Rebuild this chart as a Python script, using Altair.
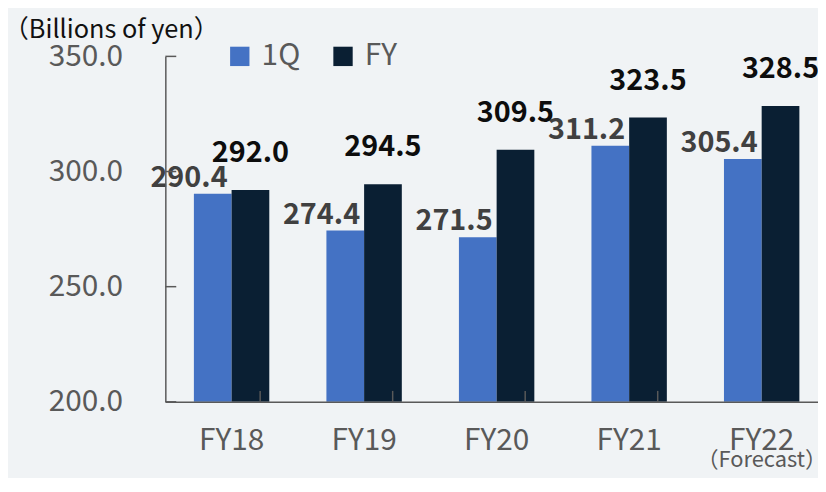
import altair as alt
import pandas as pd

# ---- data ----
categories = ["FY18", "FY19", "FY20", "FY21", "FY22"]
series = ["1Q", "FY"]
q1_values = [290.4, 274.4, 271.5, 311.2, 305.4]
fy_values = [292.0, 294.5, 309.5, 323.5, 328.5]
y_ticks = [200.0, 250.0, 300.0, 350.0]
note_cats = ["FY22"]
note_texts = ["（Forecast）"]
title_text = "（Billions of yen）"

# ---- style ----
FONT = "Noto Sans CJK JP"
colors = ["#4472C4", "#0A1F33"]
GRAY = "#595959"
BG = "#f0f3f5"
W = 651.5       # visible plot width
RANGE = 667.5   # full band range (last band runs past the page edge)
H = 348
Y_MIN, Y_MAX = 200, 350

rows = []
for c, q, f in zip(categories, q1_values, fy_values):
    rows.append({"cat": c, "series": series[0], "value": q})
    rows.append({"cat": c, "series": series[1], "value": f})
df = pd.DataFrame(rows)

x_enc = alt.X(
    "cat:N",
    sort=categories,
    scale=alt.Scale(domain=categories, range=[0, RANGE], paddingInner=0.431, paddingOuter=0.2155),
    axis=alt.Axis(
        title=None, labelAngle=0, labelFont=FONT, labelFontSize=30, labelColor=GRAY,
        ticks=False, labelPadding=24, domainColor=GRAY, domainWidth=1.5, zindex=1,
    ),
)
y_enc = alt.Y(
    "value:Q",
    scale=alt.Scale(domain=[Y_MIN, Y_MAX], zero=False, nice=False),
    axis=alt.Axis(
        title=None, values=y_ticks, format=".1f", labelFont=FONT, labelFontSize=30,
        labelColor=GRAY, ticks=False, labelPadding=43, domainColor=GRAY,
        domainWidth=1.5, grid=False, zindex=1,
    ),
)
xoff = alt.XOffset("series:N", sort=series, scale=alt.Scale(domain=series, paddingInner=0, paddingOuter=0))

base = alt.Chart(df)

bars = base.mark_bar().encode(
    x=x_enc,
    xOffset=xoff,
    y=y_enc,
    y2=alt.datum(Y_MIN),
    color=alt.Color(
        "series:N",
        sort=series,
        scale=alt.Scale(domain=series, range=colors),
        legend=alt.Legend(
            title=None, orient="none", direction="horizontal", legendX=60, legendY=-15,
            symbolType="square", symbolSize=380, symbolStrokeWidth=0, symbolOpacity=1,
            labelFont=FONT, labelFontSize=30, labelColor=GRAY, labelOffset=7,
            columnPadding=28, padding=0,
        ),
    ),
)

q1_labels = base.transform_filter(alt.datum.series == series[0]).mark_text(
    align="right", baseline="alphabetic", dx=15, dy=-7,
    font=FONT, fontSize=29, fontWeight="bold", color="#404040",
).encode(x=x_enc, xOffset=xoff, y=y_enc, text=alt.Text("value:Q", format=".1f"))

fy_labels = base.transform_filter(alt.datum.series == series[1]).mark_text(
    align="center", baseline="alphabetic", dy=-28,
    font=FONT, fontSize=29, fontWeight="bold", color="#0d0d0d",
).encode(x=x_enc, xOffset=xoff, y=y_enc, text=alt.Text("value:Q", format=".1f"))

# inward-pointing axis ticks
y_tick_rules = alt.Chart(pd.DataFrame({"value": y_ticks})).mark_rule(
    color=GRAY, strokeWidth=1.5
).encode(y=y_enc, x=alt.value(0), x2=alt.value(11))

x_tick_rules = alt.Chart(pd.DataFrame({"cat": categories[1:]})).mark_rule(
    color=GRAY, strokeWidth=1.5
).encode(x=x_enc, xOffset=alt.value(-RANGE / len(categories) / 2), y=alt.value(H - 11), y2=alt.value(H))

notes = alt.Chart(pd.DataFrame({"cat": note_cats, "note": note_texts})).mark_text(
    align="center", baseline="alphabetic", font=FONT, fontSize=22, color=GRAY
).encode(x=x_enc, y=alt.value(H + 66), text="note:N")

chart = alt.layer(bars, q1_labels, fy_labels, y_tick_rules, x_tick_rules, notes).properties(
    width=W,
    height=H,
    title=alt.TitleParams(
        text=title_text, anchor="start", frame="group", font=FONT, fontSize=25.5,
        fontWeight="normal", color="#111111", dx=-163, offset=-2,
    ),
    autosize=alt.AutoSizeParams(type="none"),
    padding={"left": 158.5, "top": 47, "right": 6, "bottom": 75},
    background=BG,
).configure_view(stroke=None)

chart.save("out.html", embed_options={"renderer": "svg", "actions": False})
